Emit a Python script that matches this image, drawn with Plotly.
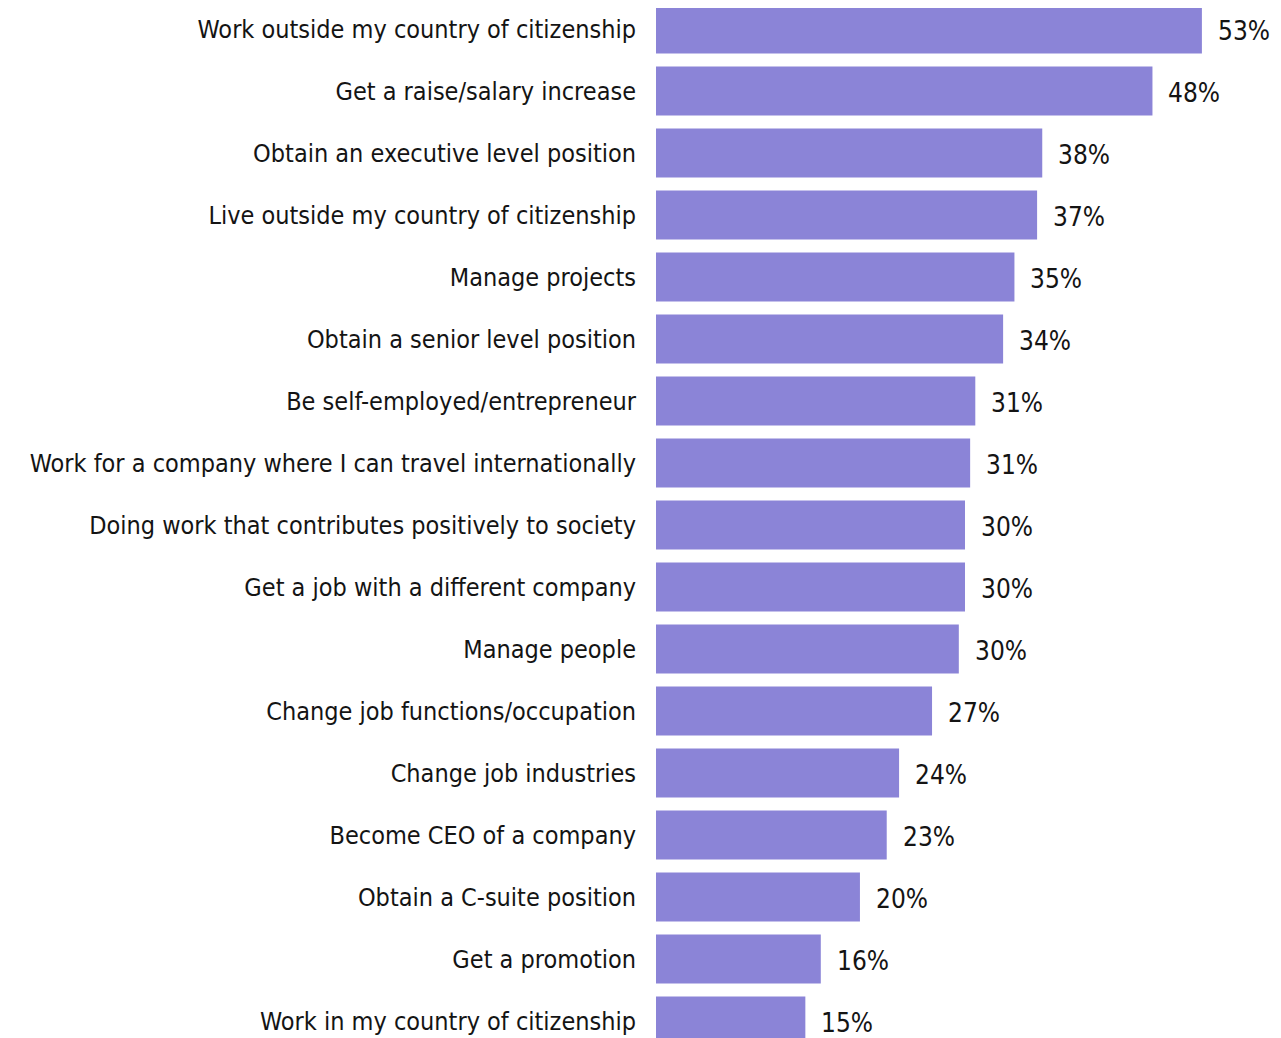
import plotly.graph_objects as go

categories = [
    "Work outside my country of citizenship",
    "Get a raise/salary increase",
    "Obtain an executive level position",
    "Live outside my country of citizenship",
    "Manage projects",
    "Obtain a senior level position",
    "Be self-employed/entrepreneur",
    "Work for a company where I can travel internationally",
    "Doing work that contributes positively to society",
    "Get a job with a different company",
    "Manage people",
    "Change job functions/occupation",
    "Change job industries",
    "Become CEO of a company",
    "Obtain a C-suite position",
    "Get a promotion",
    "Work in my country of citizenship",
]
values = [53.0, 48.2, 37.5, 37.0, 34.8, 33.7, 31.0, 30.5, 30.0, 30.0, 29.4, 26.8, 23.6, 22.4, 19.8, 16.0, 14.5]
labels = ["53%", "48%", "38%", "37%", "35%", "34%", "31%", "31%", "30%", "30%", "30%",
          "27%", "24%", "23%", "20%", "16%", "15%"]

FONT = "DejaVu Sans Condensed, Tahoma, Verdana, sans-serif"
BAR = "#8b84d7"
TXT = "#141414"

fig = go.Figure(go.Bar(
    y=categories, x=values, orientation="h",
    marker=dict(color=BAR, line=dict(width=0)),
    width=0.79,
    hoverinfo="skip",
))

for c, v, t in zip(categories, values, labels):
    fig.add_annotation(x=v, y=c, text=t, showarrow=False, xanchor="left",
                       xshift=14, yshift=-2, font=dict(family=FONT, size=26, color=TXT))

fig.update_layout(
    width=1281, height=1038,
    margin=dict(l=648, r=15, t=0, b=0),
    paper_bgcolor="white", plot_bgcolor="white",
    showlegend=False,
    font=dict(family=FONT, size=25, color=TXT),
    xaxis=dict(range=[0, 60], visible=False, showgrid=False, zeroline=False),
    yaxis=dict(range=[16.403, -0.339], showgrid=False, zeroline=False, showline=False,
               ticks="", ticklabelstandoff=19,
               tickfont=dict(family=FONT, size=25, color=TXT)),
)

fig.write_html("out.html")
